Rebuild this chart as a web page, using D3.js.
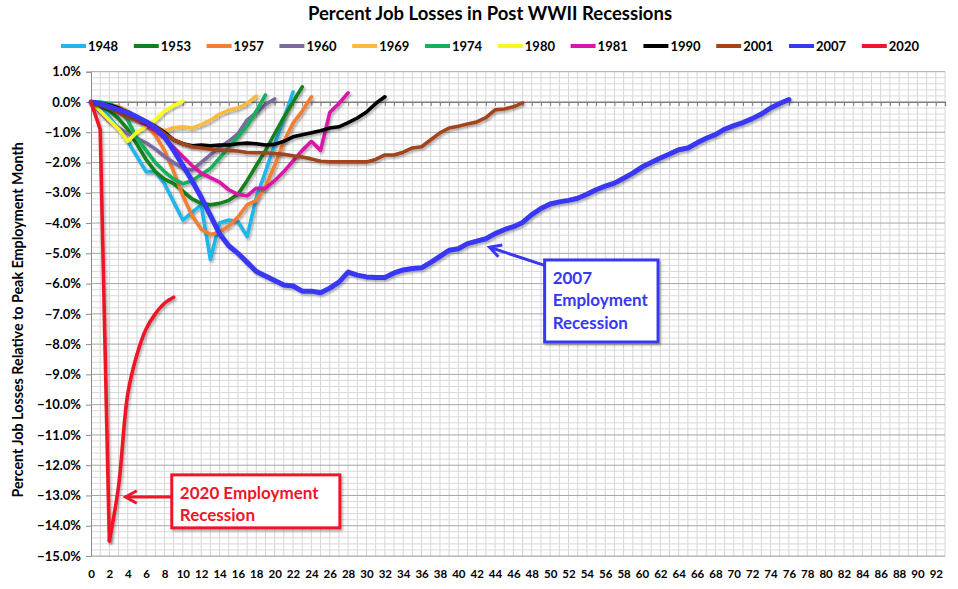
<!DOCTYPE html>
<html><head><meta charset="utf-8">
<script src="https://cdn.jsdelivr.net/npm/d3@7"></script>
<style>
body{margin:0;background:#fff;}
text{font-family:Lato,"Liberation Sans",sans-serif;font-weight:bold;}
</style>
</head><body>
<svg id="c" width="958" height="589"></svg>
<script>
// ---------------- DATA ----------------
const title = "Percent Job Losses in Post WWII Recessions";
const yAxisTitle = "Percent Job Losses Relative to Peak Employment Month";
const yTickValues = d3.range(-15, 1.001, 1);
const xTickValues = d3.range(0, 93, 2);
const recessionNames = ["1948","1953","1957","1960","1969","1974","1980","1981","1990","2001","2007","2020"];
const recessionColors = ["#22B5E8","#12801F","#F07E34","#7B6A9C","#F8BA41","#16AF5C","#F8F820","#D914A8","#000000","#A3441C","#3838F4","#EE1628"];

const s1948 = [0,-0.2,-0.5,-0.9,-1.3,-1.8,-2.3,-2.3,-2.7,-3.3,-3.9,-3.65,-3.4,-5.2,-4.0,-3.9,-3.95,-4.45,-3.15,-2.3,-1.4,-0.55,0.33];
const s1953 = [0,-0.1,-0.3,-0.55,-0.9,-1.4,-1.9,-2.3,-2.55,-2.7,-2.95,-3.2,-3.35,-3.4,-3.35,-3.25,-3.05,-2.6,-2.1,-1.6,-1.05,-0.5,0.0,0.5];
const s1957 = [0,-0.05,-0.1,-0.15,-0.3,-0.5,-0.75,-1.1,-1.6,-2.3,-3.1,-3.75,-4.2,-4.38,-4.3,-4.1,-3.8,-3.4,-3.25,-2.8,-2.1,-1.3,-0.7,-0.3,0.17];
const s1960 = [0,-0.35,-0.65,-0.85,-1.05,-1.2,-1.35,-1.55,-1.8,-2.0,-2.2,-2.25,-2.0,-1.75,-1.5,-1.3,-1.05,-0.6,-0.35,-0.08,0.1];
const s1969 = [0,-0.1,-0.2,-0.35,-0.5,-0.6,-0.75,-0.85,-0.95,-0.85,-0.82,-0.86,-0.75,-0.6,-0.4,-0.27,-0.2,-0.05,0.2];
const s1974 = [0,0,-0.05,-0.2,-0.6,-1.2,-1.6,-2.0,-2.3,-2.55,-2.7,-2.6,-2.4,-2.2,-1.85,-1.5,-1.15,-0.8,-0.3,0.23];
const s1980 = [0,-0.3,-0.6,-0.9,-1.3,-1.0,-0.8,-0.6,-0.3,-0.12,0.03];
const s1981 = [0,-0.05,-0.15,-0.3,-0.45,-0.6,-0.75,-0.95,-1.2,-1.5,-1.8,-2.1,-2.35,-2.5,-2.65,-2.9,-3.05,-3.1,-2.85,-2.85,-2.6,-2.3,-1.95,-1.6,-1.3,-1.6,-0.35,-0.05,0.3];
const s1990 = [0,-0.05,-0.1,-0.2,-0.35,-0.5,-0.65,-0.8,-1.0,-1.25,-1.38,-1.45,-1.42,-1.45,-1.42,-1.42,-1.38,-1.36,-1.38,-1.42,-1.4,-1.3,-1.15,-1.08,-1.02,-0.95,-0.86,-0.82,-0.68,-0.53,-0.33,-0.05,0.17];
const s2001 = [0,-0.1,-0.2,-0.35,-0.5,-0.6,-0.66,-0.8,-1.05,-1.25,-1.38,-1.48,-1.52,-1.56,-1.59,-1.6,-1.62,-1.67,-1.68,-1.68,-1.7,-1.73,-1.78,-1.82,-1.88,-1.96,-1.98,-1.98,-1.98,-1.98,-1.98,-1.9,-1.75,-1.75,-1.66,-1.52,-1.48,-1.25,-1.02,-0.86,-0.8,-0.73,-0.66,-0.52,-0.26,-0.23,-0.16,-0.03];
const s2007 = [0,-0.05,-0.15,-0.25,-0.35,-0.5,-0.65,-0.85,-1.15,-1.6,-2.1,-2.6,-3.15,-3.75,-4.35,-4.75,-5.0,-5.3,-5.6,-5.75,-5.9,-6.05,-6.08,-6.25,-6.25,-6.3,-6.15,-5.95,-5.62,-5.72,-5.78,-5.8,-5.8,-5.65,-5.55,-5.5,-5.48,-5.3,-5.1,-4.9,-4.85,-4.68,-4.6,-4.52,-4.35,-4.22,-4.12,-3.98,-3.72,-3.52,-3.37,-3.3,-3.25,-3.18,-3.05,-2.9,-2.78,-2.68,-2.52,-2.35,-2.15,-2.0,-1.85,-1.72,-1.58,-1.52,-1.35,-1.2,-1.08,-0.9,-0.78,-0.68,-0.55,-0.4,-0.2,-0.05,0.08];
const s2020 = [0,-0.9,-14.5,-12.7,-9.65,-8.35,-7.5,-7.0,-6.65,-6.45];

const seriesValues = [s1948,s1953,s1957,s1960,s1969,s1974,s1980,s1981,s1990,s2001,s2007,s2020];

// ---------------- CHART ----------------
const svg = d3.select("#c");
const L = 91, R = 945, T = 71.7, B = 556;
const x = d3.scaleLinear().domain([0, 93]).range([L, R]);
const y = d3.scaleLinear().domain([-15, 1]).range([B, T]);

const defs = svg.append("defs");
const f = defs.append("filter").attr("id","sh").attr("x","-30%").attr("y","-30%").attr("width","160%").attr("height","160%");
f.append("feDropShadow").attr("dx",1.5).attr("dy",2).attr("stdDeviation",1.3).attr("flood-color","#000").attr("flood-opacity",0.3);

// grid
const g = svg.append("g");
g.selectAll(".vg").data(d3.range(1, 94)).join("line")
  .attr("x1", d => x(d)).attr("x2", d => x(d)).attr("y1", T).attr("y2", B)
  .attr("stroke", "#D6D6D6").attr("stroke-width", 1);
g.selectAll(".hm").data(d3.range(-15, 1.0001, 0.2).map(v => Math.round(v*10)/10).filter(v => Math.abs(v - Math.round(v)) > 0.01)).join("line")
  .attr("x1", L).attr("x2", R).attr("y1", d => y(d)).attr("y2", d => y(d))
  .attr("stroke", "#DADADA").attr("stroke-width", 1);
g.selectAll(".hM").data(yTickValues).join("line")
  .attr("x1", L).attr("x2", R).attr("y1", d => y(d)).attr("y2", d => y(d))
  .attr("stroke", "#A6A6A6").attr("stroke-width", 1);

// y axis
const yAxis = d3.axisLeft(y).tickValues(yTickValues).tickSize(5).tickFormat(d => d3.format(".1f")(d) + "%");
const ya = svg.append("g").attr("transform", `translate(${L},0)`).call(yAxis);
ya.select(".domain").attr("stroke", "#8C8C8C");
ya.selectAll(".tick line").attr("stroke", "#8C8C8C");
ya.selectAll(".tick text").attr("x", -10).attr("font-size", 13).attr("fill", "#000")
  .style("font-family", "Lato,'Liberation Sans',sans-serif").style("font-weight", "bold");

// zero axis line with month ticks
const xAxis0 = d3.axisBottom(x).tickValues(d3.range(0, 94)).tickSize(4).tickFormat("");
const xa0 = svg.append("g").attr("transform", `translate(0,${y(0)})`).call(xAxis0);
xa0.select(".domain").attr("stroke", "#7F7F7F").attr("stroke-width", 1.3);
xa0.selectAll(".tick line").attr("stroke", "#7F7F7F");

// bottom labels
const xAxisB = d3.axisBottom(x).tickValues(xTickValues).tickSize(0).tickPadding(14);
const xb = svg.append("g").attr("transform", `translate(0,${B})`).call(xAxisB);
xb.select(".domain").attr("stroke", "#BFBFBF");
xb.selectAll(".tick text").attr("font-size", 11.5).attr("fill", "#000")
  .style("font-family", "Lato,'Liberation Sans',sans-serif").style("font-weight", "bold");

// lines
const line = d3.line().x(d => x(d[0])).y(d => y(d[1]));
const smooth = d3.line().x(d => x(d[0])).y(d => y(d[1])).curve(d3.curveCatmullRom.alpha(0.5));
const lg = svg.append("g");
seriesValues.forEach((vals, k) => {
  const name = recessionNames[k];
  const pts = vals.map((v, i) => [i, v]);
  const col = recessionColors[k];
  const sw = name === "2007" ? 5 : 3.6;
  const segs = name === "2020" ? [[line, pts.slice(0, 3)], [smooth, pts.slice(2)]] : [[line, pts]];
  segs.forEach(([gen, p]) => {
    lg.append("path").datum(p)
      .attr("d", gen)
      .attr("fill", "none").attr("stroke", col)
      .attr("stroke-width", sw)
      .attr("stroke-linejoin", "round").attr("stroke-linecap", "round")
      .attr("filter", "url(#sh)");
  });
});

// title
svg.append("text").attr("x", 490).attr("y", 20).attr("text-anchor", "middle")
  .attr("font-size", 18.5).text(title);

// legend
const leg = svg.append("g");
recessionNames.forEach((n, i) => {
  const lx = 61 + i * 72.8;
  leg.append("line").attr("x1", lx).attr("x2", lx + 25).attr("y1", 46).attr("y2", 46)
    .attr("stroke", recessionColors[i]).attr("stroke-width", 4);
  leg.append("text").attr("x", lx + 27).attr("y", 50.5).attr("font-size", 13).text(n);
});

// y axis title
svg.append("text").attr("transform", `translate(23,${(T + B) / 2 + 6}) rotate(-90)`)
  .attr("text-anchor", "middle").attr("font-size", 14.3).text(yAxisTitle);

// annotations
function arrow(color, x1, y1, x2, y2) {
  const a = svg.append("g");
  a.append("line").attr("x1", x1).attr("y1", y1).attr("x2", x2).attr("y2", y2)
    .attr("stroke", color).attr("stroke-width", 3);
  const ang = Math.atan2(y1 - y2, x1 - x2), h = 13, w = 0.5;
  a.append("path")
    .attr("d", `M${x2 + h * Math.cos(ang - w)},${y2 + h * Math.sin(ang - w)} L${x2},${y2} L${x2 + h * Math.cos(ang + w)},${y2 + h * Math.sin(ang + w)}`)
    .attr("fill", "none").attr("stroke", color).attr("stroke-width", 3).attr("stroke-linejoin", "miter");
}
function box(color, bx, by, bw, bh, lines, dy) {
  svg.append("rect").attr("x", bx).attr("y", by).attr("width", bw).attr("height", bh)
    .attr("fill", "#fff").attr("stroke", color).attr("stroke-width", 3).attr("filter", "url(#sh)");
  lines.forEach((t, i) => svg.append("text").attr("x", bx + 8).attr("y", by + 24 + i * dy)
    .attr("fill", color).attr("font-size", 17).text(t));
}
const c2007 = "#3838F4", c2020 = "#EE1628";
arrow(c2007, x(49.4), y(-5.4), x(43.4), y(-4.8));
box(c2007, x(49.4), y(-5.22), x(61.75) - x(49.4), y(-7.93) - y(-5.22), ["2007", "Employment", "Recession"], 22.5);
arrow(c2020, x(8.8), y(-13.05), x(3.75), y(-13.05));
box(c2020, x(8.8), y(-12.32), x(27.1) - x(8.8), y(-14.07) - y(-12.32), ["2020 Employment", "Recession"], 22.5);
</script>
</body></html>
